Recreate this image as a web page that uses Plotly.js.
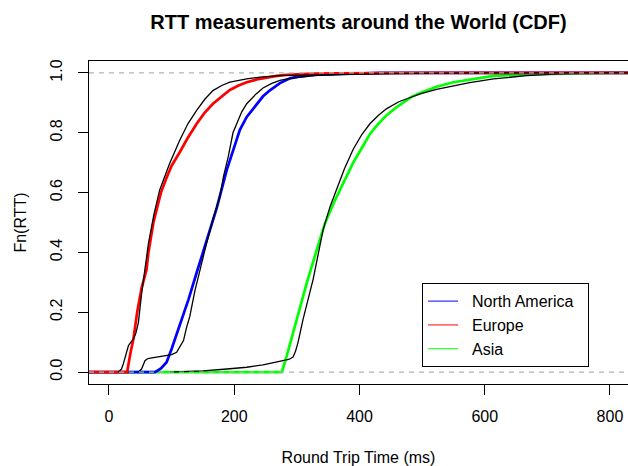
<!DOCTYPE html>
<html>
<head>
<meta charset="utf-8">
<script src="https://cdn.plot.ly/plotly-3.0.1.min.js"></script>
<style>html,body{margin:0;padding:0;overflow:hidden;background:#fff}</style>
</head>
<body>
<div id="chart" style="width:628px;height:466px"></div>
<script>
// Europe (red) empirical CDF
const euX = [-40, 29, 34, 39, 45, 52, 60, 63, 71, 83, 92, 100, 113, 125, 140, 152, 166, 180, 193, 207, 220, 236, 252, 268, 284, 305, 326, 360, 400, 450, 520, 900];
const euY = [0, 0, 0.06, 0.11, 0.2, 0.28, 0.343, 0.4, 0.5, 0.6, 0.65, 0.69, 0.735, 0.78, 0.83, 0.865, 0.897, 0.922, 0.943, 0.958, 0.969, 0.978, 0.985, 0.99, 0.994, 0.997, 0.998, 0.999, 0.9995, 1, 1, 1];
// Europe fit (black)
const euFitX = [15, 20, 23, 27, 31, 35, 39, 43, 47, 52, 56, 60, 63, 72, 81, 97, 113, 126, 140, 153, 166, 180, 193, 220, 245, 273, 350, 450, 600, 900];
const euFitY = [0, 0.01, 0.028, 0.06, 0.088, 0.1, 0.11, 0.13, 0.166, 0.26, 0.32, 0.37, 0.43, 0.53, 0.609, 0.698, 0.775, 0.83, 0.875, 0.912, 0.941, 0.958, 0.969, 0.98, 0.987, 0.991, 0.995, 0.998, 1, 1];

// North America (blue) empirical CDF
const naX = [-40, 73.5, 83, 92, 100, 113, 127, 140, 156, 172, 188, 198, 209, 220, 235, 246, 257, 273, 289, 300, 332, 380, 433, 900];
const naY = [0, 0, 0.012, 0.033, 0.077, 0.155, 0.243, 0.332, 0.437, 0.548, 0.675, 0.74, 0.81, 0.853, 0.895, 0.922, 0.942, 0.966, 0.982, 0.987, 0.994, 0.998, 1, 1];
// North America fit (black)
const naFitX = [47, 52, 57.5, 62, 76, 92, 100, 108, 113, 119, 124, 129, 137, 146, 156, 166, 177, 183, 190.5, 198, 204, 212, 220, 235, 246, 260, 273, 284, 326, 380, 450, 550, 900];
const naFitY = [0, 0.01, 0.038, 0.045, 0.05, 0.055, 0.058, 0.066, 0.085, 0.105, 0.15, 0.185, 0.27, 0.35, 0.432, 0.51, 0.587, 0.655, 0.72, 0.8, 0.831, 0.87, 0.897, 0.93, 0.95, 0.965, 0.975, 0.98, 0.991, 0.996, 0.999, 1, 1];

// Asia (green) empirical CDF
const asX = [-40, 276, 284, 300, 316, 332, 345, 361, 377, 390, 404, 417, 430, 443, 457, 470, 483, 497, 510, 523, 550, 576, 614, 667, 730, 800, 900];
const asY = [0, 0, 0.055, 0.177, 0.299, 0.41, 0.498, 0.575, 0.645, 0.7, 0.75, 0.797, 0.83, 0.858, 0.882, 0.902, 0.92, 0.933, 0.944, 0.954, 0.969, 0.978, 0.99, 0.995, 0.998, 1, 1];
// Asia fit (black)
const asFitX = [97, 150, 193, 220, 246, 265, 278, 287, 294, 298, 302, 310, 326, 342, 353, 364, 376, 390, 404, 417, 430, 443, 462, 481, 497, 523, 550, 576, 614, 667, 720, 780, 900];
const asFitY = [0, 0.004, 0.011, 0.016, 0.024, 0.032, 0.039, 0.042, 0.05, 0.07, 0.1, 0.177, 0.31, 0.476, 0.553, 0.615, 0.68, 0.745, 0.795, 0.831, 0.858, 0.88, 0.903, 0.918, 0.93, 0.945, 0.958, 0.968, 0.98, 0.991, 0.997, 1, 1];

const seriesNames = ["North America", "Europe", "Asia"];
const seriesColors = ["#0000FF", "#FF0000", "#00FF00"];

const xTicks = [0, 200, 400, 600, 800];
const yTicks = [0, 0.2, 0.4, 0.6, 0.8, 1.0];
const yTickText = ["0.0", "0.2", "0.4", "0.6", "0.8", "1.0"];

const FONT = "Liberation Sans, Arial, Helvetica, sans-serif";
const NB = "\u00a0\u00a0";

function curve(x, y, color, width, name) {
  return {x: x, y: y, type: "scatter", mode: "lines", name: name,
          line: {color: color, width: width}, showlegend: false, hoverinfo: "skip"};
}

const data = [
  curve(asX, asY, seriesColors[2], 2.7, "Asia"),
  curve(asFitX, asFitY, "#000000", 1.3, "Asia fit"),
  curve(naX, naY, seriesColors[0], 2.7, "North America"),
  curve(naFitX, naFitY, "#000000", 1.3, "North America fit"),
  curve(euX, euY, seriesColors[1], 2.7, "Europe"),
  curve(euFitX, euFitY, "#000000", 1.3, "Europe fit")
];
// legend entries (thin keys, as in the original legend)
seriesNames.forEach(function (n, i) {
  data.push({x: [null], y: [null], type: "scatter", mode: "lines",
             name: NB + n + NB, line: {color: seriesColors[i], width: 1},
             showlegend: true, legendrank: i + 1, hoverinfo: "skip"});
});

const layout = {
  width: 628, height: 466,
  margin: {l: 89, r: 0, t: 61, b: 82, pad: 0},
  paper_bgcolor: "#ffffff", plot_bgcolor: "#ffffff",
  font: {family: FONT, size: 16, color: "#000"},
  title: {text: "RTT measurements around the World (CDF)",
          font: {family: FONT, size: 20, weight: "bold", color: "#000"},
          xref: "paper", x: 0.5, xanchor: "center",
          yref: "container", y: 0.953, yanchor: "middle"},
  xaxis: {range: [-31.9, 828.8], tickvals: xTicks, ticktext: xTicks.map(String),
          ticks: "outside", ticklen: 10, tickwidth: 1, tickcolor: "#000",
          showline: true, linecolor: "#000", linewidth: 1, mirror: true,
          showgrid: false, zeroline: false, ticklabelstandoff: 8,
          tickfont: {color: "#000"},
          title: {text: "Round Trip Time (ms)", standoff: 27, font: {size: 16, color: "#000"}}},
  yaxis: {range: [-0.04, 1.04], tickvals: yTicks, ticktext: yTickText, tickangle: -90,
          ticks: "outside", ticklen: 10, tickwidth: 1, tickcolor: "#000",
          showline: true, linecolor: "#000", linewidth: 1,
          showgrid: false, zeroline: false, ticklabelstandoff: 10,
          tickfont: {color: "#000"},
          title: {text: "Fn(RTT)", standoff: 16, font: {size: 16, color: "#000"}}},
  shapes: [
    {type: "line", xref: "paper", x0: 0, x1: 1, yref: "y", y0: 0, y1: 0, layer: "above",
     line: {color: "#B3B3B3", width: 1.2, dash: "5px,5px"}},
    {type: "line", xref: "paper", x0: 0, x1: 1, yref: "y", y0: 1, y1: 1, layer: "above",
     line: {color: "#B3B3B3", width: 1.2, dash: "5px,5px"}}
  ],
  legend: {x: 0.618, y: 0.312, xanchor: "left", yanchor: "top",
           bordercolor: "#000", borderwidth: 1, bgcolor: "#fff",
           font: {family: FONT, size: 16, color: "#000"}, traceorder: "normal"},
  showlegend: true
};

Plotly.newPlot("chart", data, layout, {displayModeBar: false, staticPlot: true});
</script>
</body>
</html>
